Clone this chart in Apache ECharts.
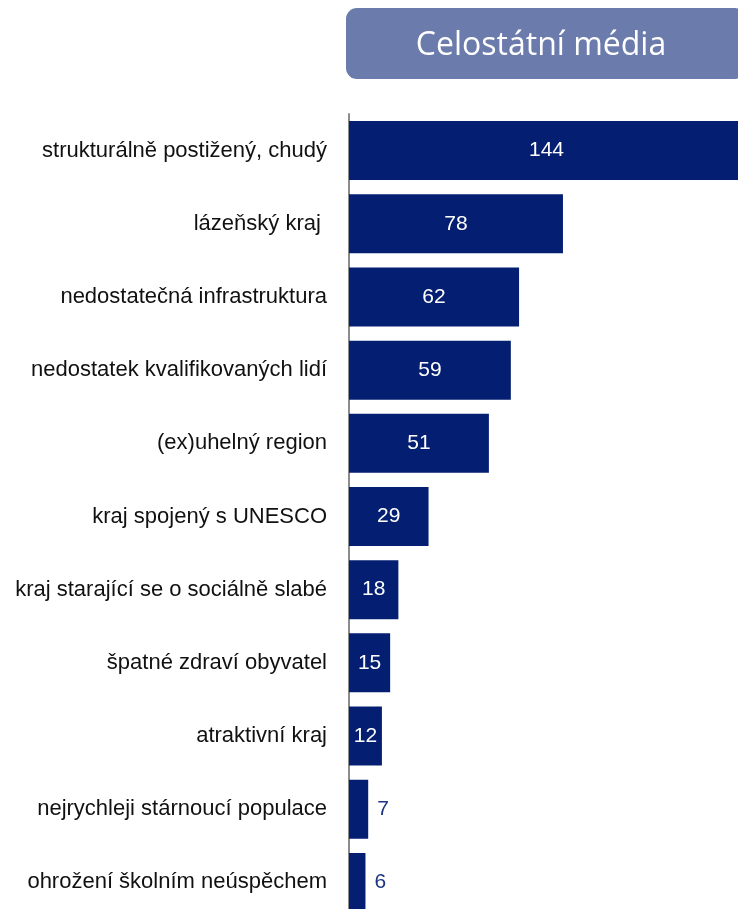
<!DOCTYPE html>
<html>
<head>
<meta charset="utf-8">
<script src="https://cdn.jsdelivr.net/npm/echarts@6/dist/echarts.min.js"></script>
<style>
  html, body { margin: 0; padding: 0; background: #ffffff; }
  #chart { width: 738px; height: 909px; }
</style>
</head>
<body>
<div id="chart"></div>
<script>
// Označení kraje v celostátních médiích (počet zmínek)
const categories = [
  'strukturálně postižený, chudý',
  'lázeňský kraj ',
  'nedostatečná infrastruktura',
  'nedostatek kvalifikovaných lidí',
  '(ex)uhelný region',
  'kraj spojený s UNESCO',
  'kraj starající se o sociálně slabé',
  'špatné zdraví obyvatel',
  'atraktivní kraj',
  'nejrychleji stárnoucí populace',
  'ohrožení školním neúspěchem'
];
const values = [144, 78, 62, 59, 51, 29, 18, 15, 12, 7, 6];
const chartTitle = 'Celostátní média';

// malé hodnoty se popisují vně sloupce
const outsideBelow = 10;

const chart = echarts.init(document.getElementById('chart'), null, { renderer: 'canvas' });

const barData = values.map(v => ({
  value: v,
  label: v < outsideBelow
    ? { position: 'right', distance: 9, color: '#1f3581' }
    : { position: 'inside', color: '#ffffff' }
}));

chart.setOption({
  animation: false,
  backgroundColor: '#ffffff',
  graphic: [
    {
      type: 'rect',
      left: 346, top: 8,
      shape: { width: 400, height: 71, r: 11 },
      style: { fill: '#6a7bac' }
    },
    {
      type: 'text',
      x: 541, y: 46,
      style: {
        text: chartTitle,
        fill: '#ffffff',
        font: '32px "Open Sans", sans-serif',
        textAlign: 'center',
        textVerticalAlign: 'middle'
      }
    }
  ],
  // plocha grafu přesahuje spodní a pravý okraj plátna
  grid: {
    left: 349, top: 114, width: 395, height: 805,
    containLabel: false,
    outerBoundsMode: 'none'
  },
  xAxis: {
    type: 'value',
    min: 0, max: 144,
    show: false
  },
  yAxis: {
    type: 'category',
    data: categories,
    inverse: true,
    axisLine: { show: true, lineStyle: { color: '#8c8c8c', width: 2 } },
    axisTick: { show: false },
    axisLabel: {
      margin: 22,
      fontSize: 22,
      fontFamily: '"Liberation Sans", Arial, sans-serif',
      color: '#111111'
    }
  },
  series: [{
    type: 'bar',
    data: barData,
    barWidth: 59,
    itemStyle: { color: '#041f71' },
    label: {
      show: true,
      fontSize: 21,
      fontFamily: '"Liberation Sans", Arial, sans-serif'
    },
    z: 1
  }]
});
</script>
</body>
</html>
